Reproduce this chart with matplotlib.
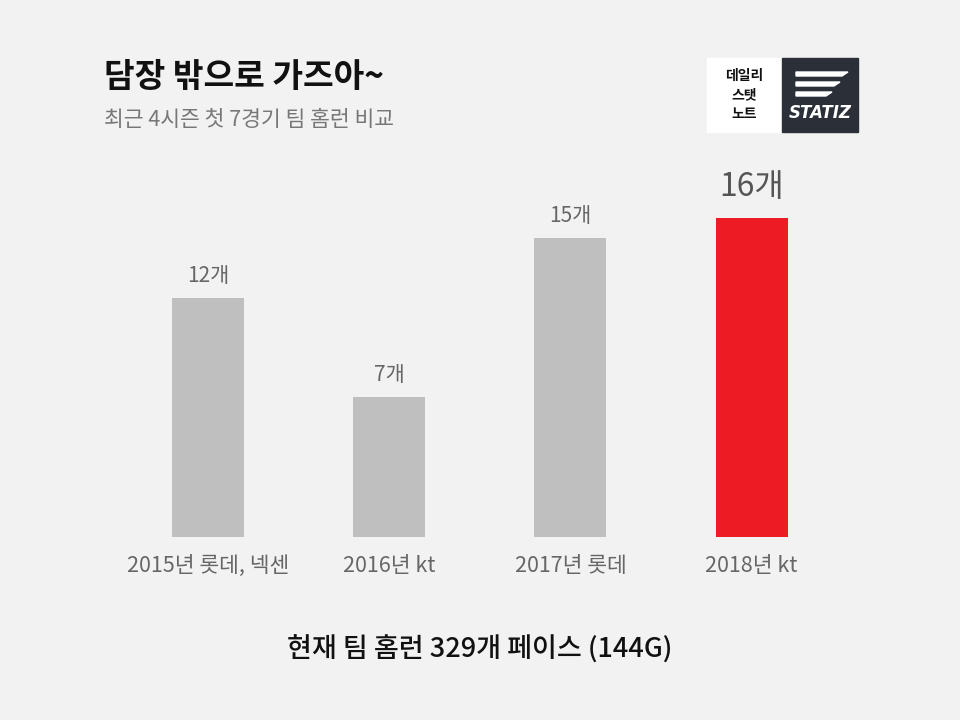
import matplotlib
matplotlib.use("Agg")
import matplotlib.pyplot as plt
from matplotlib.patches import Rectangle, Polygon
from matplotlib import font_manager

categories = ["2015년 롯데, 넥센", "2016년 kt", "2017년 롯데", "2018년 kt"]
values = [12, 7, 15, 16]
value_labels = ["12개", "7개", "15개", "16개"]
colors = ["#bfbfbf", "#bfbfbf", "#bfbfbf", "#ed1c24"]

names = {f.name for f in font_manager.fontManager.ttflist}
cands = [n for n in ["Noto Sans CJK KR", "Noto Sans CJK JP", "Noto Sans CJK SC", "Noto Sans CJK TC"] if n in names]
plt.rcParams["font.family"] = cands + ["DejaVu Sans"]
bg = "#f2f2f2"
fig = plt.figure(figsize=(9.6, 7.2), dpi=100, facecolor=bg)
W, H = 960, 720
ax = fig.add_axes([117.3 / W, 1 - 537 / H, 725 / W, (537 - 218) / H])
ax.set_facecolor(bg)
x = range(len(values))
ax.bar(x, values, width=0.397, color=colors)
ax.set_xlim(-0.5, 3.5)
ax.set_ylim(0, 16)
for i, (v, lab) in enumerate(zip(values, value_labels)):
    big = i == 3
    ax.text(i, v + (0.75 if big else 0.55), lab, ha="center", va="bottom",
            fontsize=23 if big else 15, color="#555555" if big else "#666666", clip_on=False)
ax.set_xticks(list(x))
ax.set_xticklabels(categories, fontsize=15.5, color="#666666")
ax.tick_params(axis="x", length=0, pad=13)
ax.set_yticks([])
for s in ax.spines.values():
    s.set_visible(False)

fig.text(104 / W, 1 - 78 / H, "담장 밖으로 가즈아~", fontsize=24, fontweight="bold", va="center", color="#111111")
fig.text(104 / W, 1 - 120 / H, "최근 4시즌 첫 7경기 팀 홈런 비교", fontsize=15.5, va="center", color="#777777")
fig.text(480 / W, 1 - 650 / H, "현재 팀 홈런 329개 페이스 (144G)", fontsize=19.5, fontweight="medium", ha="center", va="center", color="#111111")

# logo
fig.patches.append(Rectangle((707 / W, 1 - 132 / H), 75 / W, 74 / H, transform=fig.transFigure, color="white"))
fig.patches.append(Rectangle((782 / W, 1 - 132 / H), 76 / W, 74 / H, transform=fig.transFigure, color="#2b2f38"))
for j, t in enumerate(["데일리", "스탯", "노트"]):
    fig.text(744 / W, 1 - (76 + j * 19) / H, t, fontsize=10, fontweight="bold", ha="center", va="center", color="#111111")
for k, (y0, x1) in enumerate([(72, 848), (82, 840), (92, 832)]):
    fig.patches.append(Polygon([(796 / W, 1 - y0 / H), (x1 / W, 1 - y0 / H), ((x1 - 6) / W, 1 - (y0 + 4) / H), (796 / W, 1 - (y0 + 4) / H)],
                               closed=True, transform=fig.transFigure, color="white"))
fig.text(820 / W, 1 - 113 / H, "STATIZ", fontsize=12, fontweight="bold", style="italic", ha="center", va="center", color="white", family="DejaVu Sans")

fig.savefig("out.png", dpi=100, facecolor=bg)
